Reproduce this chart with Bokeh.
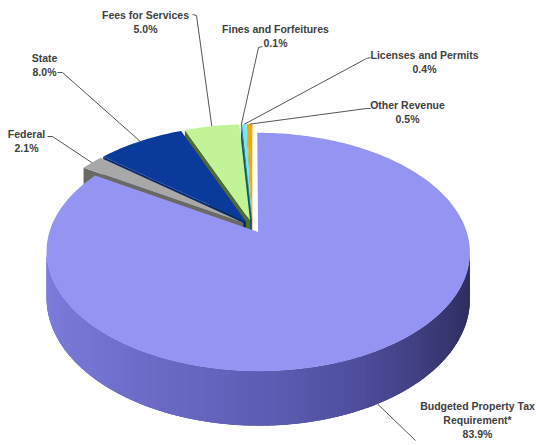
import math
import numpy as np
from bokeh.plotting import figure
from bokeh.models import Range1d, ColumnDataSource
from bokeh.core.properties import value
from bokeh.embed import file_html
from bokeh.resources import INLINE

# ---------------- data ----------------
categories = ["Budgeted Property Tax Requirement*", "Federal", "State",
              "Fees for Services", "Fines and Forfeitures",
              "Licenses and Permits", "Other Revenue"]
shares = [83.9, 2.1, 8.0, 5.0, 0.1, 0.4, 0.5]
label_lines = [["Budgeted Property Tax", "Requirement*"], ["Federal"], ["State"],
               ["Fees for Services"], ["Fines and Forfeitures"],
               ["Licenses and Permits"], ["Other Revenue"]]

# ---------------- styles ----------------
top_colors = ["#9494F2", "#A8A8A8", "#0A3A9C", "#C2F396", "#1F7F9A", "#7FE3EA", "#F4A900"]
face_colors = ["#5E5EB0", "#6A6A62", "#07276E", "#4E6E2C", "#145565", "#4FA8B0", "#B07800"]
side_stops = [(95, (40, 40, 84)), (130, (56, 56, 116)), (160, (80, 80, 160)),
              (190, (100, 100, 190)), (225, (116, 116, 210)), (265, (128, 128, 224))]

# geometry of the projected 3-D pie (screen pixels)
OX, OY = 252.0, 226.0
A, B, K, D = 207.0, 114.0, 0.166, 45.0
EXPLODE = 0.055

# label layout: (center x, first line y, leader points from label side)
label_layout = [
    (477, 405, [(415, 440)]),
    (26, 133, [(47, 136), (52, 136)]),
    (44, 57, [(57, 72), (62, 72)]),
    (145, 14, [(192, 14), (196, 15)]),
    (275, 28, [(262, 46), (258, 47)]),
    (424, 54, [(370, 57), (366, 58)]),
    (407, 104, [(370, 108), (366, 108)]),
]
LINE_H = 14.0


def proj(u, z, h=0.0):
    den = 1.0 + K * z
    return OX + A * u / den, OY - B * z / den + D * h / den


def side_color(t):
    if t <= side_stops[0][0]:
        c = side_stops[0][1]
    elif t >= side_stops[-1][0]:
        c = side_stops[-1][1]
    else:
        for (a0, c0), (a1, c1) in zip(side_stops[:-1], side_stops[1:]):
            if a0 <= t <= a1:
                f = (t - a0) / (a1 - a0)
                c = tuple(int(round(c0[j] + f * (c1[j] - c0[j]))) for j in range(3))
                break
    return "#%02x%02x%02x" % c


# cumulative angles (degrees clockwise from 12 o'clock)
total = float(sum(shares))
starts, ends = [], []
acc = 0.0
for s in shares:
    starts.append(360.0 * acc / total)
    acc += s
    ends.append(360.0 * acc / total)

slices = []
for i in range(len(shares)):
    t1, t2 = starts[i], ends[i]
    mid = math.radians((t1 + t2) / 2)
    su, sz = EXPLODE * math.sin(mid), EXPLODE * math.cos(mid)
    slices.append((t1, t2, su, sz))


def rim(i, t, h=0.0):
    t1, t2, su, sz = slices[i]
    r = math.radians(t)
    return proj(su + math.sin(r), sz + math.cos(r), h)


def vertex(i, h=0.0):
    t1, t2, su, sz = slices[i]
    return proj(su, sz, h)


xs, ys, fills = [], [], []


def add_poly(pts, color):
    xs.append([p[0] for p in pts])
    ys.append([p[1] for p in pts])
    fills.append(color)


# small (back) slices, drawn from right to left
for i in sorted(range(1, len(shares)), key=lambda j: -starts[j]):
    t1, t2, su, sz = slices[i]
    add_poly([vertex(i), rim(i, t1), rim(i, t1, 1), vertex(i, 1)], face_colors[i])
    n = max(3, int((t2 - t1) / 1.0) + 2)
    pts = [vertex(i)] + [rim(i, t) for t in np.linspace(t1, t2, n)]
    add_poly(pts, top_colors[i])

# main slice: visible side (base + shaded strips), then top
t1, t2 = starts[0], ends[0]
vis_a = math.degrees(math.acos(-K))
vis_b = 360.0 - vis_a
a0, a1 = max(t1, vis_a), min(t2, vis_b)
arc = np.linspace(a0, a1, 160)
base = [rim(0, t) for t in arc] + [rim(0, t, 1) for t in arc[::-1]]
add_poly(base, side_color(180))
edges = np.linspace(a0, a1, 120)
step = edges[1] - edges[0]
order = sorted(range(len(edges) - 1), key=lambda j: -abs((edges[j] + edges[j + 1]) / 2 - 180))
for j in order:
    ta = max(a0, edges[j] - 0.4 * step)
    tb = min(a1, edges[j + 1] + 0.4 * step)
    add_poly([rim(0, ta), rim(0, tb), rim(0, tb, 1), rim(0, ta, 1)],
             side_color((edges[j] + edges[j + 1]) / 2))
n = int(t2 - t1) + 2
pts = [vertex(0)] + [rim(0, t) for t in np.linspace(t1, t2, n)]
add_poly(pts, top_colors[0])

src = ColumnDataSource(dict(xs=xs, ys=ys, fill=fills))

p = figure(width=536, height=445, x_range=Range1d(0, 536), y_range=Range1d(445, 0),
           x_axis_type=None, y_axis_type=None, output_backend="svg",
           toolbar_location=None, min_border=0)
p.grid.visible = False
p.outline_line_color = None
p.background_fill_color = "white"
p.border_fill_color = "white"

p.patches("xs", "ys", source=src, fill_color="fill", line_color=None)

# leader lines
lx, ly = [], []
for i in range(len(shares)):
    t1, t2, su, sz = slices[i]
    midd = (t1 + t2) / 2
    anchor = rim(i, midd, 1.0) if i == 0 else rim(i, midd)
    pts = label_layout[i][2] + [anchor]
    lx.append([q[0] for q in pts])
    ly.append([q[1] for q in pts])
p.multi_line(lx, ly, line_color="#555555", line_width=1)

# labels
tx, ty, tt = [], [], []
for i in range(len(shares)):
    cx, y0, _ = label_layout[i]
    lines = label_lines[i] + ["%.1f%%" % shares[i]]
    for k, s in enumerate(lines):
        tx.append(cx)
        ty.append(y0 + k * LINE_H)
        tt.append(s)
p.text(x=tx, y=ty, text=tt, text_align="center", text_baseline="middle",
       text_font=value("Liberation Sans"), text_font_size="10.5px",
       text_font_style="bold", text_color="#404040")

open("out.html", "w").write(file_html(p, INLINE))
